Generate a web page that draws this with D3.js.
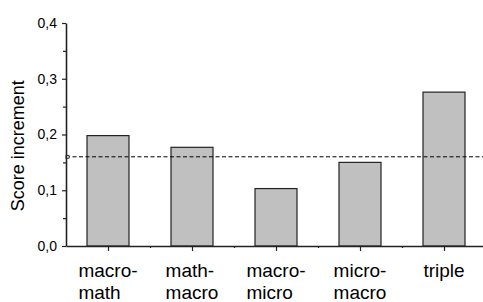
<!DOCTYPE html>
<meta charset="utf-8">
<script src="https://d3js.org/d3.v7.min.js"></script>
<style>
    body { margin: 0; background: #fff; }
    text { font-family: "Liberation Sans", Arial, sans-serif; fill: #000; }
</style>
<div id="chart"></div>
<script>

    // data
    const categories = ["macro-\nmath", "math-\nmacro", "macro-\nmicro", "micro-\nmacro", "triple"];
    const scores = [0.198, 0.177, 0.103, 0.150, 0.276];
    const baseline = 0.16;
    const yTicks = [0, 0.1, 0.2, 0.3, 0.4];

    const W = 483, H = 302;
    const margin = {top: 23, right: -3, bottom: 56, left: 66};
    const width = W - margin.left - margin.right,
        height = H - margin.top - margin.bottom;

    const svg = d3.select("#chart")
        .append("svg")
        .attr("width", W)
        .attr("height", H)
        .append("g")
        .attr("transform", `translate(${margin.left}, ${margin.top})`);

    // x: one unit per category, bars half a unit wide
    const x = d3.scaleLinear()
        .domain([0.5, categories.length + 0.5])
        .range([0, width]);

    const y = d3.scaleLinear()
        .domain([0, 0.4])
        .range([height, 0]);

    // bars
    svg.selectAll("rect.bar")
        .data(scores)
        .join("rect")
        .attr("class", "bar")
        .attr("x", (d, i) => x(i + 1 - 0.25))
        .attr("width", x(1.25) - x(0.75))
        .attr("y", d => y(d))
        .attr("height", d => y(0) - y(d))
        .attr("fill", "#c0c0c0")
        .attr("stroke", "#222")
        .attr("stroke-width", 1.2);

    // dashed reference line
    svg.append("line")
        .attr("x1", 0)
        .attr("x2", width)
        .attr("y1", y(baseline))
        .attr("y2", y(baseline))
        .attr("stroke", "#000")
        .attr("stroke-width", 1)
        .attr("stroke-dasharray", "4,2.5");
    svg.append("rect")
        .attr("x", 0)
        .attr("y", y(baseline) - 1.5)
        .attr("width", 3)
        .attr("height", 3)
        .attr("fill", "#fff")
        .attr("stroke", "#222")
        .attr("stroke-width", 0.8);

    // Y axis: minor ticks then major ticks with labels
    svg.append("g")
        .call(d3.axisLeft(y).tickValues(d3.range(0.05, 0.4, 0.1)).tickSize(3).tickFormat(""))
        .call(g => g.select(".domain").remove())
        .selectAll("line").attr("stroke", "#222").attr("stroke-width", 1.2);

    const yAxis = svg.append("g")
        .call(d3.axisLeft(y).tickValues(yTicks).tickSize(4).tickSizeOuter(0).tickPadding(5)
            .tickFormat(d => d3.format(".1f")(d).replace(".", ",")));
    yAxis.select(".domain").attr("stroke", "#222").attr("stroke-width", 1.6);
    yAxis.selectAll("line").attr("stroke", "#222").attr("stroke-width", 1.2);
    yAxis.selectAll("text")
        .style("font-family", "'Liberation Sans', Arial, sans-serif")
        .style("font-size", "14px");

    // X axis
    svg.append("g")
        .attr("transform", `translate(0, ${height})`)
        .call(d3.axisBottom(x).tickValues(d3.range(1.5, categories.length, 1)).tickSize(2).tickFormat(""))
        .call(g => g.select(".domain").remove())
        .selectAll("line").attr("stroke", "#222").attr("stroke-width", 1.2);

    const xAxis = svg.append("g")
        .attr("transform", `translate(0, ${height})`)
        .call(d3.axisBottom(x).tickValues(d3.range(1, categories.length + 1)).tickSize(5).tickSizeOuter(0).tickFormat(""));
    xAxis.select(".domain").attr("stroke", "#222").attr("stroke-width", 1.6);
    xAxis.selectAll("line").attr("stroke", "#222").attr("stroke-width", 1.2);

    // category labels, lines left aligned, block centred on the tick
    categories.forEach(function(c, i) {
        const t = svg.append("text")
            .attr("y", height + 31)
            .style("font-size", "19px");
        c.split("\n").forEach(function(line, k) {
            t.append("tspan")
                .attr("dy", k === 0 ? 0 : 22)
                .text(line);
        });
        let w = 0;
        t.selectAll("tspan").each(function() { w = Math.max(w, this.getComputedTextLength()); });
        t.selectAll("tspan").attr("x", x(i + 1) - w / 2);
    });

    // y label
    svg.append("text")
        .attr("transform", `translate(${24 - margin.left}, ${y(0.18)}) rotate(-90)`)
        .attr("text-anchor", "middle")
        .style("font-size", "18px")
        .text("Score increment");
</script>
